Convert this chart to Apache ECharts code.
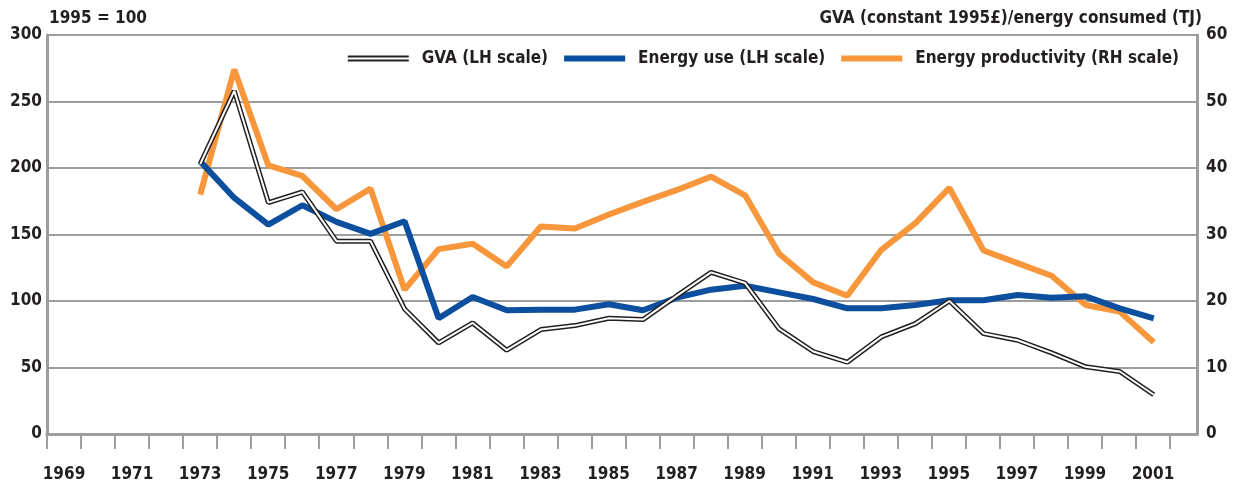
<!DOCTYPE html>
<html>
<head>
<meta charset="utf-8">
<script src="https://cdn.jsdelivr.net/npm/echarts@6/dist/echarts.min.js"></script>
<style>
  html, body {margin: 0; padding: 0; background: #fff;}
  #chart {width: 1235px; height: 484px;}
</style>
</head>
<body>
<div id="chart"></div>
<script>
// years on the category axis (labels every other year)
const axisYears = [];
for (let y = 1969; y <= 2001; y++) axisYears.push(String(y));

const years = [1973, 1974, 1975, 1976, 1977, 1978, 1979, 1980, 1981, 1982, 1983, 1984, 1985, 1986, 1987,
    1988, 1989, 1990, 1991, 1992, 1993, 1994, 1995, 1996, 1997, 1998, 1999, 2000, 2001];

// 1995 = 100
const gva = [203, 258, 174, 182, 145, 145, 94, 68.5, 83.5, 63, 78.5, 81.5, 87, 86, 104,
    121.5, 113.5, 79, 62, 54, 73, 83, 100, 75.5, 70.5, 61, 50.5, 47, 29.5];
const energyUse = [205, 177.5, 157.5, 172, 159.5, 150.5, 160, 87, 103, 93, 93.5, 93.5, 97.5, 93, 102.5,
    108.5, 111.5, 106.5, 101.5, 94.5, 94.5, 97, 100.5, 100.5, 104.5, 102.5, 103.5, 94.5, 87];
// GVA (constant 1995£)/energy consumed (TJ)
const productivity = [36, 54.8, 40.4, 38.8, 33.8, 36.9, 21.7, 27.8, 28.6, 25.2, 31.2, 30.9, 33, 34.9, 36.7,
    38.7, 35.9, 27.1, 22.8, 20.8, 27.7, 31.7, 37, 27.6, 25.7, 23.8, 19.4, 18.4, 13.8];

const FONT = "'Liberation Sans Narrow', 'DejaVu Sans Condensed', 'Arial Narrow', sans-serif";
const TXT = '#231f20';
const GREY = '#9d9d9d';
const FS = 17;

const pair = (arr) => arr.map((v, i) => [years[i], v]);

const chart = echarts.init(document.getElementById('chart'));

const option = {
    animation: false,
    textStyle: {fontFamily: FONT, fontWeight: 'bold', color: TXT},
    title: [
        {text: '1995 = 100', left: 44, top: 5,
            textStyle: {fontFamily: FONT, fontWeight: 'bold', fontSize: FS, color: TXT}},
        {text: 'GVA (constant 1995£)/energy consumed (TJ)', right: 28, top: 5,
            textStyle: {fontFamily: FONT, fontWeight: 'bold', fontSize: FS, color: TXT}}
    ],
    legend: {
        right: 51,
        top: 45,
        itemWidth: 61,
        itemHeight: 6,
        itemGap: 16,
        textStyle: {fontFamily: FONT, fontWeight: 'bold', fontSize: FS, color: TXT, padding: [0, 0, 0, 8]},
        data: [
            {name: 'GVA (LH scale)', icon: 'path://M0,0H61V2H0Z M0,4H61V6H0Z', itemStyle: {color: '#231f20'}},
            {name: 'Energy use (LH scale)', icon: 'rect'},
            {name: 'Energy productivity (RH scale)', icon: 'rect'}
        ]
    },
    grid: [
        {left: 47, right: 38, top: 35, bottom: 50},
        {left: 47, right: 65, top: 35, bottom: 50}
    ],
    xAxis: [
        {
            type: 'value', gridIndex: 0, min: 1968.5, max: 2002.27,
            axisLine: {show: true, lineStyle: {color: GREY, width: 3}},
            axisTick: {show: false}, axisLabel: {show: false}, splitLine: {show: false}
        },
        {
            type: 'value', gridIndex: 0, position: 'top', min: 1968.5, max: 2002.27,
            axisLine: {show: true, lineStyle: {color: GREY, width: 3}},
            axisTick: {show: false}, axisLabel: {show: false}, splitLine: {show: false}
        },
        {
            type: 'category', gridIndex: 1, data: axisYears, boundaryGap: true,
            axisLine: {show: false},
            axisTick: {show: true, interval: 0, length: 15, lineStyle: {color: GREY, width: 2}},
            axisLabel: {interval: 1, margin: 32, fontFamily: FONT, fontWeight: 'bold', fontSize: FS, color: TXT}
        }
    ],
    yAxis: [
        {
            type: 'value', gridIndex: 0, position: 'left', min: 0, max: 300, interval: 50,
            axisLine: {show: true, lineStyle: {color: GREY, width: 3}},
            axisTick: {show: false},
            axisLabel: {margin: 5, fontFamily: FONT, fontWeight: 'bold', fontSize: FS, color: TXT},
            splitLine: {show: true, lineStyle: {color: GREY, width: 2}}
        },
        {
            type: 'value', gridIndex: 0, position: 'right', min: 0, max: 60, interval: 10,
            axisLine: {show: true, lineStyle: {color: GREY, width: 3}},
            axisTick: {show: false},
            axisLabel: {margin: 9, fontFamily: FONT, fontWeight: 'bold', fontSize: FS, color: TXT},
            splitLine: {show: false}
        },
        {type: 'value', gridIndex: 1, show: false}
    ],
    series: [
        {
            name: 'Energy productivity (RH scale)', type: 'line', xAxisIndex: 0, yAxisIndex: 1,
            data: pair(productivity), symbol: 'none', color: '#f7963a',
            lineStyle: {color: '#f7963a', width: 6}
        },
        {
            name: 'Energy use (LH scale)', type: 'line', xAxisIndex: 0, yAxisIndex: 0,
            data: pair(energyUse), symbol: 'none', color: '#0c4f9f',
            lineStyle: {color: '#0c4f9f', width: 6}
        },
        {
            name: 'GVA (LH scale)', type: 'line', xAxisIndex: 0, yAxisIndex: 0,
            data: pair(gva), symbol: 'none', color: '#231f20',
            lineStyle: {color: '#231f20', width: 5}
        },
        {
            name: 'GVA inner', type: 'line', xAxisIndex: 0, yAxisIndex: 0,
            data: pair(gva), symbol: 'none', color: '#ffffff',
            lineStyle: {color: '#ffffff', width: 2}
        }
    ]
};

chart.setOption(option);
</script>
</body>
</html>
